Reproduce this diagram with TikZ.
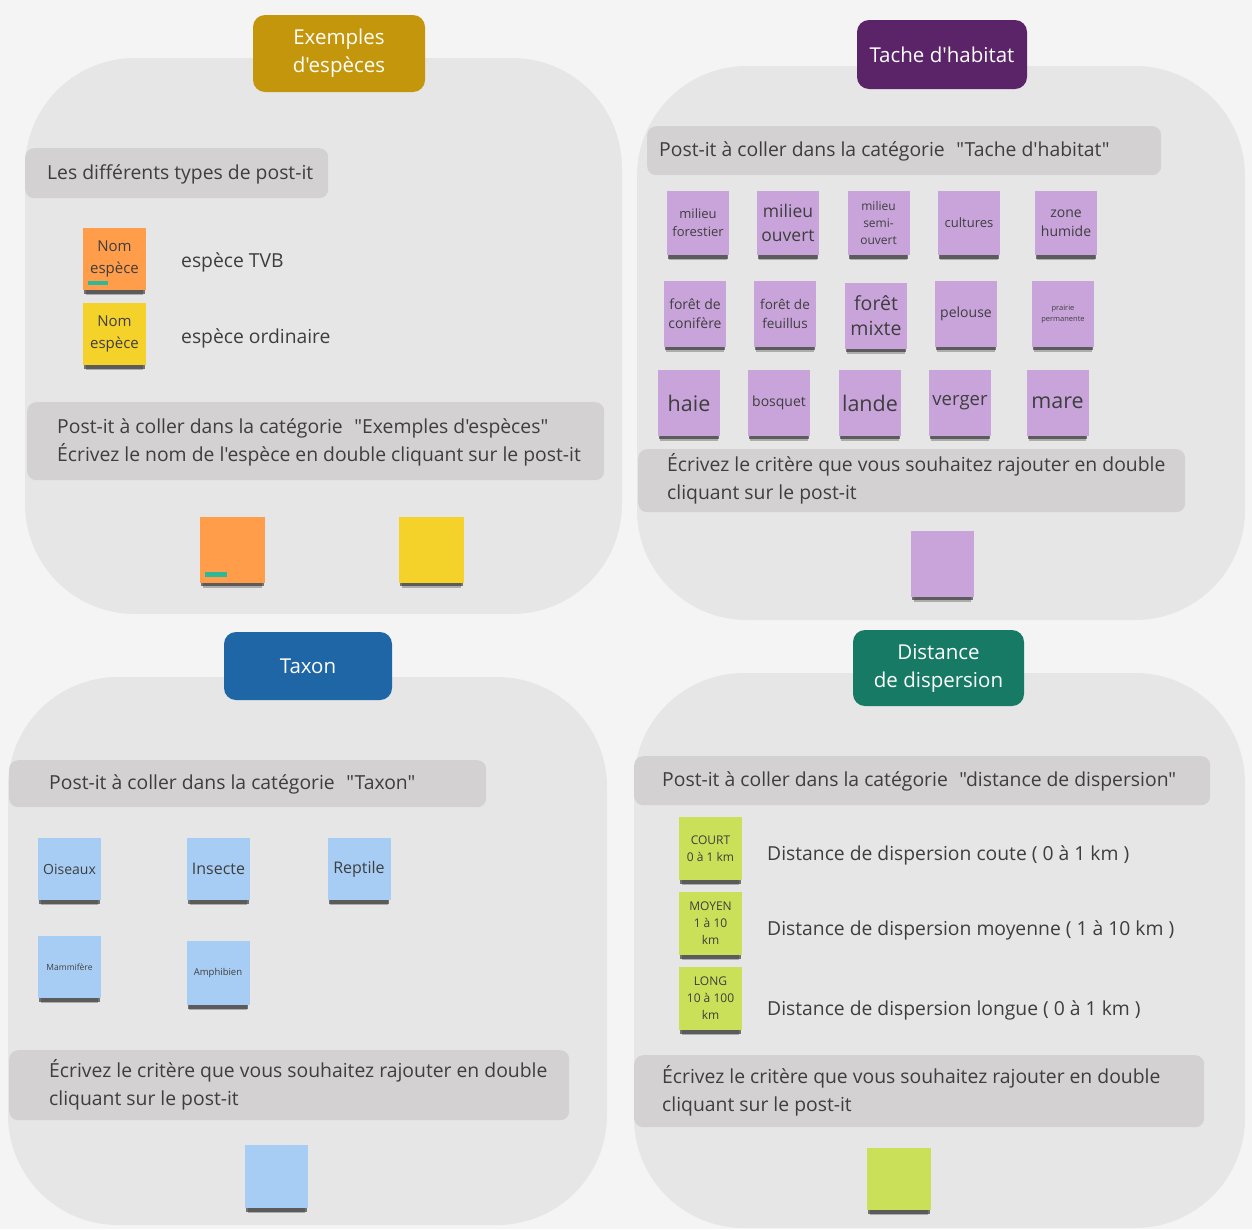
\documentclass[tikz,border=0pt]{standalone}
\usepackage{fontspec}
\setmainfont{Open Sans}[Ligatures=TeXOff]
\usetikzlibrary{shadows}
\definecolor{bgc}{HTML}{F4F4F4}
\definecolor{panelc}{HTML}{E6E6E6}
\definecolor{barc}{HTML}{D3D1D1}
\definecolor{txt}{HTML}{3E3E3E}
\definecolor{gold}{HTML}{C4960B}
\definecolor{hpurple}{HTML}{5B2368}
\definecolor{hblue}{HTML}{1E66A5}
\definecolor{hteal}{HTML}{167A64}
\definecolor{norange}{HTML}{FF9D4A}
\definecolor{nyellow}{HTML}{F5D22A}
\definecolor{npurple}{HTML}{C9A4DB}
\definecolor{nblue}{HTML}{A8CDF5}
\definecolor{ngreen}{HTML}{CAE058}
\definecolor{tag}{HTML}{2DB89A}
\tikzset{
  panel/.style={fill=panelc, rounded corners=110pt, inner sep=0pt},
  header/.style={rounded corners=12pt, text=white, align=center, inner sep=0pt,
    font=\fontsize{20.5}{28}\selectfont},
  bar/.style={fill=barc, rounded corners=9pt, inner sep=0pt, anchor=north west},
  bartext/.style={anchor=west, align=left, text=txt, inner sep=0pt,
    font=\fontsize{19.35}{28}\selectfont},
  note/.style={minimum width=63pt, minimum height=63pt, inner sep=0pt, align=center, text=txt,
    drop shadow={shadow xshift=0pt, shadow yshift=-8pt, shadow scale=0.92, opacity=0.25, fill=black},
    drop shadow={shadow xshift=0pt, shadow yshift=-5pt, shadow scale=0.96, opacity=0.6, fill=black!85}},
  lbl/.style={anchor=west, text=txt, inner sep=0pt, font=\fontsize{19.3}{22}\selectfont},
}
\newcommand\fz[2]{\fontsize{#1}{#2}\selectfont}
\newcommand\gap{\hspace{0.6em}}
\begin{document}
\begin{tikzpicture}[x=1pt,y=-1pt]
\fill[bgc] (0,0) rectangle (1252,1229);
\useasboundingbox (0,0) rectangle (1252,1229);
% panels
\node[panel, minimum width=597pt, minimum height=556pt] (p1) at (323.5,336) {};
\node[panel, minimum width=608pt, minimum height=554pt] (p2) at (941,343) {};
\node[panel, minimum width=599pt, minimum height=548pt] (p3) at (307.5,951) {};
\node[panel, minimum width=611pt, minimum height=555pt] (p4) at (939.5,950.5) {};
% headers
\node[header, fill=gold, minimum width=172pt, minimum height=77pt] (h1) at (339,53.5) {Exemples\\d'espèces};
\node[header, fill=hpurple, minimum width=170pt, minimum height=69pt] (h2) at (942,54.5) {Tache d'habitat};
\node[header, fill=hblue, minimum width=168pt, minimum height=68pt] (h3) at (308,666) {Taxon};
\node[header, fill=hteal, minimum width=171pt, minimum height=76pt] (h4) at (938.5,668) {Distance\\de dispersion};
% ---- panel 1
\node[bar, minimum width=303pt, minimum height=50pt] (b1) at (25,148) {};
\node[bartext] (b1t) at ([xshift=22pt,yshift=-1pt]b1.west) {Les différents types de post-it};
\node[note, fill=norange, minimum height=62pt, font=\fz{15}{22}] (o1) at (114.5,259) {Nom\\espèce};
\fill[tag] ([xshift=5pt,yshift=5pt]o1.south west) rectangle ++(20,-4);
\node[lbl] (t1) at (181,262) {espèce TVB};
\node[note, fill=nyellow, minimum height=62pt, font=\fz{15}{22}] (y1) at (114.5,334) {Nom\\espèce};
\node[lbl] (t2) at (181,338) {espèce ordinaire};
\node[bar, minimum width=577pt, minimum height=78pt] (b2) at (27,402) {};
\node[bartext] (b2t) at ([xshift=30pt,yshift=-1pt]b2.west) {Post-it à coller dans la catégorie\gap"Exemples d'espèces"\\Écrivez le nom de l'espèce en double cliquant sur le post-it};
\node[note, fill=norange, minimum width=65pt, minimum height=66pt] (o2) at (232.5,550) {};
\fill[tag] ([xshift=5pt,yshift=6pt]o2.south west) rectangle ++(22,-5);
\node[note, fill=nyellow, minimum width=65pt, minimum height=66pt] (y2) at (431.5,550) {};
% ---- panel 2
\node[bar, minimum width=514pt, minimum height=49pt] (b3) at (647,126) {};
\node[bartext] (b3t) at ([xshift=12pt,yshift=-1pt]b3.west) {Post-it à coller dans la catégorie\gap"Tache d'habitat"};
\tikzset{pn/.style={note, fill=npurple, minimum width=62pt}}
\node[pn, minimum height=64pt, font=\fz{13}{18}] (m1) at (698,223) {milieu\\forestier};
\node[pn, minimum height=64pt, font=\fz{17.5}{24}] (m2) at (788,223) {milieu\\ouvert};
\node[pn, minimum height=64pt, font=\fz{12}{17}] (m3) at (878.5,223) {milieu\\semi-\\ouvert};
\node[pn, minimum height=64pt, font=\fz{13}{18}] (m4) at (969,223) {cultures};
\node[pn, minimum height=64pt, font=\fz{14}{19}] (m5) at (1066,223) {zone\\humide};
\node[pn, minimum height=66pt, font=\fz{14}{19}] (m6) at (695,314) {forêt de\\conifère};
\node[pn, minimum height=66pt, font=\fz{13.5}{19}] (m7) at (785,314) {forêt de\\feuillus};
\node[pn, minimum height=66pt, font=\fz{19.5}{25}] (m8) at (876,316) {forêt\\mixte};
\node[pn, minimum height=66pt, font=\fz{14}{19}] (m9) at (966,314) {pelouse};
\node[pn, minimum height=66pt, font=\fz{7.5}{11}] (m10) at (1063,314) {prairie\\permanente};
\node[pn, minimum height=66pt, font=\fz{21.5}{24}] (m11) at (689,403) {haie};
\node[pn, minimum height=66pt, font=\fz{14}{19}] (m12) at (779,403) {bosquet};
\node[pn, minimum height=66pt, font=\fz{21.5}{24}] (m13) at (870,403) {lande};
\node[pn, minimum height=66pt, font=\fz{18.5}{22}] (m14) at (960,403) {verger};
\node[pn, minimum height=66pt, font=\fz{21.5}{24}] (m15) at (1057.5,403) {mare};
\node[bar, minimum width=547pt, minimum height=63pt] (b4) at (638,449) {};
\node[bartext] (b4t) at ([xshift=29pt,yshift=2pt]b4.west) {Écrivez le critère que vous souhaitez rajouter en double\\cliquant sur le post-it};
\node[pn, minimum width=63pt, minimum height=66pt] (m16) at (942.5,564) {};
% ---- panel 3
\node[bar, minimum width=477pt, minimum height=47pt] (b5) at (9,760) {};
\node[bartext] (b5t) at ([xshift=40pt,yshift=-1pt]b5.west) {Post-it à coller dans la catégorie\gap"Taxon"};
\tikzset{bn/.style={note, fill=nblue, minimum width=63pt, minimum height=62pt}}
\node[bn, font=\fz{14}{18}] (n1) at (69.5,869) {Oiseaux};
\node[bn, font=\fz{16}{20}] (n2) at (218.5,869) {Insecte};
\node[bn, font=\fz{16}{20}] (n3) at (359,869) {Reptile};
\node[bn, font=\fz{8.5}{11}] (n4) at (69.5,967) {Mammifère};
\node[bn, minimum height=64pt, font=\fz{9.5}{12}] (n5) at (218,973) {Amphibien};
\node[bar, minimum width=560pt, minimum height=70pt] (b6) at (9,1050) {};
\node[bartext] (b6t) at ([xshift=40pt]b6.west) {Écrivez le critère que vous souhaitez rajouter en double\\cliquant sur le post-it};
\node[bn, minimum height=63pt] (n6) at (276.5,1176.5) {};
% ---- panel 4
\node[bar, minimum width=576pt, minimum height=49pt] (b7) at (634,756) {};
\node[bartext] (b7t) at ([xshift=28pt,yshift=-1pt]b7.west) {Post-it à coller dans la catégorie\gap"distance de dispersion"};
\tikzset{gn/.style={note, fill=ngreen, minimum width=63pt, minimum height=63pt, font=\fz{12}{17}}}
\node[gn] (g1) at (710.5,848.5) {COURT\\0 à 1 km};
\node[lbl] (d1) at (767,855) {Distance de dispersion coute ( 0 à 1 km )};
\node[gn] (g2) at (710.5,923.5) {MOYEN\\1 à 10\\km};
\node[lbl] (d2) at (767,930) {Distance de dispersion moyenne ( 1 à 10 km )};
\node[gn] (g3) at (710.5,998.5) {LONG\\10 à 100\\km};
\node[lbl] (d3) at (767,1010) {Distance de dispersion longue ( 0 à 1 km )};
\node[bar, minimum width=570pt, minimum height=72pt] (b8) at (634,1055) {};
\node[bartext] (b8t) at ([xshift=28pt]b8.west) {Écrivez le critère que vous souhaitez rajouter en double\\cliquant sur le post-it};
\node[gn, minimum width=64pt, minimum height=62pt] (g4) at (899,1179) {};
\end{tikzpicture}
\end{document}
